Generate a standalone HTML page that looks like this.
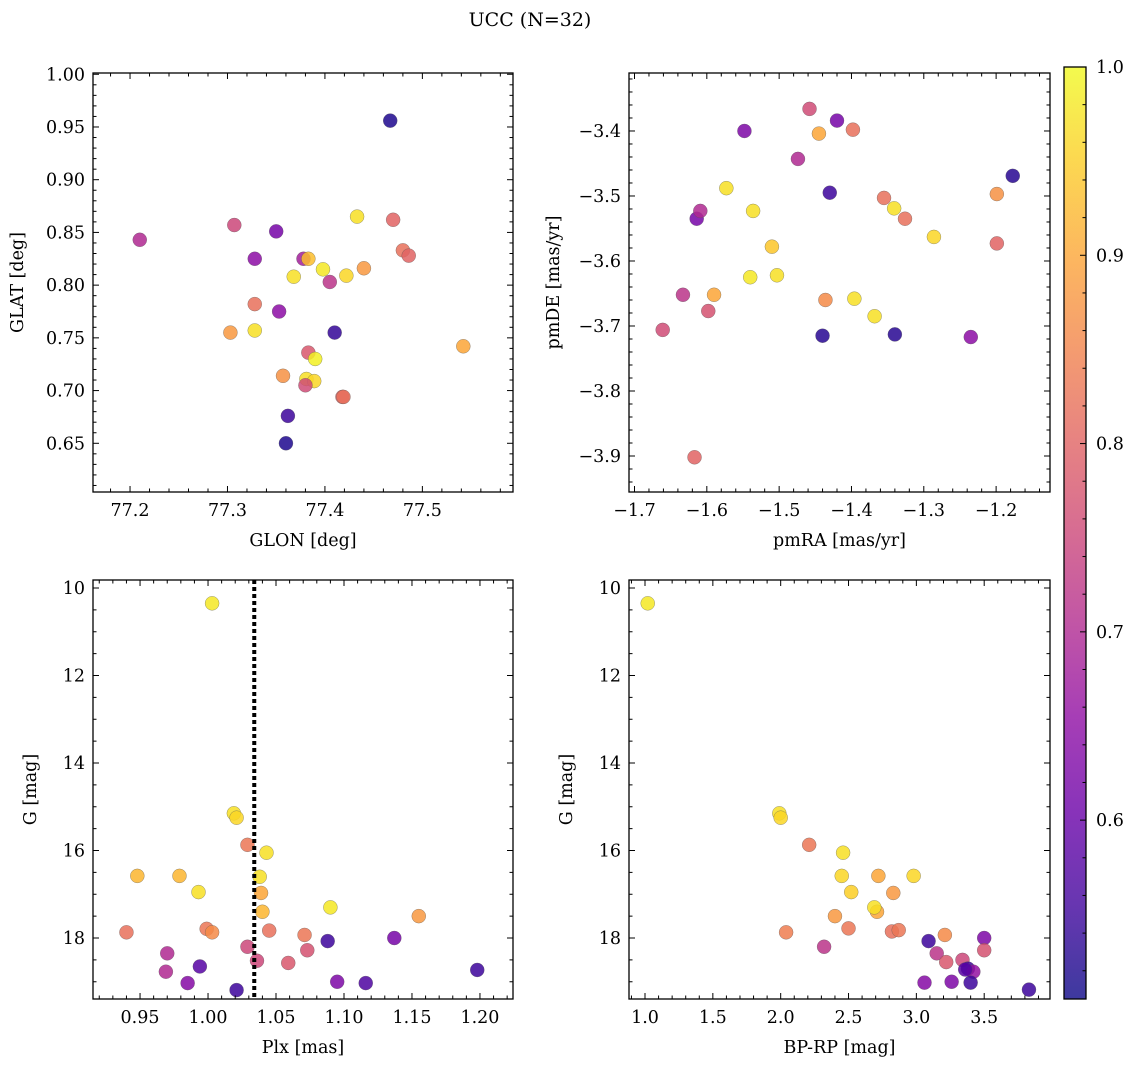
<!DOCTYPE html>
<html><head><meta charset="utf-8">
<style>
html,body{margin:0;padding:0;background:#fff;}
svg{display:block;font-family:"DejaVu Serif","Liberation Serif",serif;}
</style></head>
<body>
<svg id="fig" width="1136" height="1067" viewBox="0 0 1136 1067" xmlns="http://www.w3.org/2000/svg">
<defs>
<linearGradient id="plasma" x1="0" y1="1" x2="0" y2="0">
<stop offset="0" stop-color="#0d0887"/><stop offset="0.1" stop-color="#41049d"/><stop offset="0.2" stop-color="#6a00a8"/><stop offset="0.3" stop-color="#8f0da4"/><stop offset="0.4" stop-color="#b12a90"/><stop offset="0.5" stop-color="#cc4778"/><stop offset="0.6" stop-color="#e16462"/><stop offset="0.7" stop-color="#f2844b"/><stop offset="0.8" stop-color="#fca636"/><stop offset="0.9" stop-color="#fcce25"/><stop offset="1" stop-color="#f0f921"/>
</linearGradient>
</defs>
<text x="530" y="26" font-size="19" text-anchor="middle">UCC (N=32)</text>
</svg>
<script>
// ---- Data ----
const glon = [77.467,77.21,77.307,77.35,77.328,77.433,77.47,77.378,77.383,77.368,77.398,77.422,77.44,77.405,77.48,77.486,77.328,77.353,77.303,77.328,77.41,77.383,77.390,77.542,77.357,77.381,77.389,77.380,77.418,77.419,77.362,77.36];
const glat = [0.956,0.843,0.857,0.851,0.825,0.865,0.862,0.825,0.825,0.808,0.815,0.809,0.816,0.803,0.833,0.828,0.782,0.775,0.755,0.757,0.755,0.736,0.730,0.742,0.714,0.711,0.709,0.705,0.694,0.694,0.676,0.650];
const probA = [0.52,0.70,0.75,0.62,0.65,0.97,0.80,0.68,0.93,0.97,0.98,0.96,0.88,0.72,0.82,0.80,0.82,0.65,0.88,0.97,0.54,0.78,0.99,0.90,0.87,0.97,0.96,0.76,0.80,0.82,0.55,0.52];

const pmra = [-1.458,-1.420,-1.548,-1.445,-1.398,-1.474,-1.43,-1.177,-1.573,-1.199,-1.614,-1.609,-1.536,-1.355,-1.341,-1.326,-1.286,-1.51,-1.199,-1.54,-1.503,-1.633,-1.59,-1.598,-1.661,-1.436,-1.396,-1.368,-1.44,-1.34,-1.235,-1.617];
const pmde = [-3.366,-3.384,-3.400,-3.404,-3.398,-3.443,-3.495,-3.469,-3.488,-3.497,-3.535,-3.523,-3.523,-3.503,-3.519,-3.535,-3.563,-3.578,-3.573,-3.625,-3.622,-3.652,-3.652,-3.677,-3.706,-3.660,-3.658,-3.685,-3.715,-3.713,-3.717,-3.902];
const probB = [0.76,0.62,0.63,0.90,0.82,0.70,0.55,0.53,0.97,0.87,0.62,0.70,0.97,0.82,0.97,0.82,0.96,0.94,0.80,0.98,0.97,0.72,0.90,0.77,0.76,0.86,0.97,0.97,0.53,0.53,0.65,0.80];

const plx = [1.003,1.019,1.021,1.029,1.043,0.948,0.979,1.038,0.993,1.039,1.040,1.090,1.155,0.940,0.999,1.003,1.045,1.071,1.029,1.073,1.036,1.059,0.970,1.088,1.137,0.969,0.994,1.198,0.985,1.095,1.116,1.021];
const gmagC = [10.35,15.15,15.25,15.87,16.05,16.58,16.58,16.6,16.95,16.97,17.4,17.3,17.5,17.87,17.79,17.87,17.83,17.93,18.2,18.28,18.52,18.57,18.35,18.07,18.0,18.77,18.65,18.73,19.03,19.0,19.03,19.19];
const probC = [0.98,0.97,0.96,0.83,0.97,0.92,0.92,0.97,0.97,0.90,0.92,0.98,0.88,0.82,0.83,0.86,0.82,0.83,0.75,0.77,0.75,0.78,0.70,0.55,0.62,0.70,0.58,0.55,0.64,0.63,0.57,0.55];
const plxMedian = [1.034];

const bprp = [1.02,1.99,2.0,2.21,2.46,2.45,2.72,2.98,2.52,2.83,2.4,2.71,2.69,2.04,2.5,2.82,2.87,3.21,2.32,3.09,3.5,3.15,3.5,3.22,3.34,3.38,3.42,3.06,3.26,3.4,3.83,3.36];
const gmagD = [10.35,15.15,15.25,15.87,16.05,16.58,16.58,16.58,16.95,16.97,17.5,17.4,17.3,17.87,17.78,17.85,17.82,17.93,18.2,18.07,18.0,18.35,18.28,18.55,18.5,18.7,18.77,19.02,19.0,19.02,19.18,18.72];
const probD = [0.98,0.97,0.96,0.83,0.97,0.96,0.90,0.96,0.95,0.88,0.88,0.90,0.97,0.84,0.83,0.82,0.83,0.86,0.72,0.55,0.63,0.72,0.77,0.78,0.75,0.55,0.66,0.64,0.63,0.55,0.55,0.58];

const cbTicks = ["0.6","0.7","0.8","0.9","1.0"];
const VMIN = 0.505, VMAX = 1.0;

// ---- Helpers ----
const NS = "http://www.w3.org/2000/svg";
const svg = document.getElementById('fig');
function mk(tag, attrs, parent){
  const e = document.createElementNS(NS, tag);
  for (const k in attrs) e.setAttribute(k, attrs[k]);
  (parent||svg).appendChild(e); return e;
}
const stops = [[13,8,135],[65,4,157],[106,0,168],[143,13,164],[177,42,144],[204,71,120],[225,100,98],[242,132,75],[252,166,54],[252,206,37],[240,249,33]];
function plasma(v){
  let t = Math.max(0, Math.min(1, (v-VMIN)/(VMAX-VMIN)))*10;
  const i = Math.min(9, Math.floor(t)), f = t - i;
  const a = stops[i], b = stops[i+1];
  return `rgb(${a.map((c,j)=>Math.round(c+(b[j]-c)*f)).join(',')})`;
}
function fmt(v, d){ return v.toFixed(d).replace('-', '\u2212'); }

function panel(cfg){
  const {name, L, T, W, H, xmin, xmax, ymin, ymax, invert} = cfg;
  const g = mk('g', {});  
  const sx = v => L + (v - xmin)/(xmax - xmin)*W;
  const sy = v => invert ? T + (v - ymin)/(ymax - ymin)*H : T + H - (v - ymin)/(ymax - ymin)*H;
  const pg = mk('g', {}, g);  
  for (let i = 0; i < cfg.xs.length; i++){
    const c = mk('circle', {cx: sx(cfg.xs[i]), cy: sy(cfg.ys[i]), r: 7, fill: plasma(cfg.ps[i]), 'fill-opacity': 0.85, stroke: '#555', 'stroke-width': 0.5, 'stroke-opacity': 0.6}, pg);
    
    
  }
  const tg = mk('g', {stroke: '#000', 'stroke-width': 1}, g);
  const eps = 1e-9;
  for (let v = Math.ceil(xmin/cfg.xminor - eps)*cfg.xminor; v <= xmax + eps; v += cfg.xminor){
    const isMaj = Math.abs(v/cfg.xmajor - Math.round(v/cfg.xmajor)) < 1e-6;
    const len = isMaj ? 6 : 3.5, x = sx(v);
    mk('line', {x1: x, x2: x, y1: T+H, y2: T+H-len}, tg);
    mk('line', {x1: x, x2: x, y1: T, y2: T+len}, tg);
    if (isMaj){
      const t = mk('text', {x: x, y: T+H+24, 'font-size': 17.5, 'text-anchor': 'middle', stroke: 'none', fill: '#000'}, g);
      t.textContent = fmt(v, cfg.xdec);
      
      
    }
  }
  const y0 = Math.min(ymin, ymax), y1 = Math.max(ymin, ymax);
  for (let v = Math.ceil(y0/cfg.yminor - eps)*cfg.yminor; v <= y1 + eps; v += cfg.yminor){
    const isMaj = Math.abs(v/cfg.ymajor - Math.round(v/cfg.ymajor)) < 1e-6;
    const len = isMaj ? 6 : 3.5, y = sy(v);
    mk('line', {x1: L, x2: L+len, y1: y, y2: y}, tg);
    mk('line', {x1: L+W, x2: L+W-len, y1: y, y2: y}, tg);
    if (isMaj){
      const t = mk('text', {x: L-8, y: y+6, 'font-size': 17.5, 'text-anchor': 'end', stroke: 'none', fill: '#000'}, g);
      t.textContent = fmt(v, cfg.ydec);
      
      
    }
  }
  mk('rect', {x: L, y: T, width: W, height: H, fill: 'none', stroke: '#000', 'stroke-width': 1.3}, g);
  if (cfg.vline){
    const vx = sx(cfg.vline[0]);
    const lg = mk('g', {fill: '#000'}, g);
    
    
    for (let yy = T; yy < T + H; yy += 7){
      mk('rect', {x: vx - 2, y: yy, width: 4, height: Math.min(4, T + H - yy)}, lg);
    }
  }
  const xl = mk('text', {x: L+W/2, y: T+H+54, 'font-size': 17.5, 'text-anchor': 'middle'}, g);
  xl.textContent = cfg.xlabel;
  
  
  const yx = L - cfg.ylabOff, yy = T + H/2;
  const yl = mk('text', {x: yx, y: yy, 'font-size': 17.5, 'text-anchor': 'middle', transform: `rotate(-90 ${yx} ${yy})`}, g);
  yl.textContent = cfg.ylabel;
  
  
}

panel({name:'glon-glat-panel', L:93, T:73, W:420, H:419, xmin:77.162, xmax:77.593, ymin:0.6038, ymax:1.0012,
  xs:glon, ys:glat, ps:probA, xmajor:0.1, xminor:0.02, ymajor:0.05, yminor:0.01, xdec:1, ydec:2, xlabel:'GLON [deg]', ylabel:'GLAT [deg]', ylabOff:70});
panel({name:'pm-panel', L:629, T:73, W:421, H:419, xmin:-1.7076, xmax:-1.1255, ymin:-3.9554, ymax:-3.3108,
  xs:pmra, ys:pmde, ps:probB, xmajor:0.1, xminor:0.02, ymajor:0.1, yminor:0.02, xdec:1, ydec:1, xlabel:'pmRA [mas/yr]', ylabel:'pmDE [mas/yr]', ylabOff:70});
panel({name:'plx-g-panel', L:93, T:580, W:420, H:419, xmin:0.9154, xmax:1.2243, ymin:9.817, ymax:19.394, invert:true,
  xs:plx, ys:gmagC, ps:probC, xmajor:0.05, xminor:0.01, ymajor:2, yminor:0.5, xdec:2, ydec:0, xlabel:'Plx [mas]', ylabel:'G [mag]', ylabOff:57, vline:plxMedian});
panel({name:'cmd-panel', L:629, T:580, W:421, H:419, xmin:0.882, xmax:3.985, ymin:9.817, ymax:19.394, invert:true,
  xs:bprp, ys:gmagD, ps:probD, xmajor:0.5, xminor:0.1, ymajor:2, yminor:0.5, xdec:1, ydec:0, xlabel:'BP-RP [mag]', ylabel:'G [mag]', ylabOff:57});

// colorbar
(function(){
  const L=1064, T=67, W=22, H=932;
  const g = mk('g', {});
  
  
  mk('rect', {x:L, y:T, width:W, height:H, fill:'url(#plasma)', 'fill-opacity':0.8}, g);
  const sy = v => T + H - (v - VMIN)/(VMAX - VMIN)*H;
  for (let k = 26; k <= 50; k++){
    const v = k*0.02; if (v < VMIN) continue;
    const maj = k % 5 === 0, y = sy(v);
    mk('line', {x1:L+W, x2:L+W-(maj?6:3.5), y1:y, y2:y, stroke:'#000', 'stroke-width':1}, g);
  }
  cbTicks.forEach(s => {
    const t = mk('text', {x:L+W+10, y:sy(parseFloat(s))+6, 'font-size':17.5}, g);
    t.textContent = s;
    
    
  });
  mk('rect', {x:L, y:T, width:W, height:H, fill:'none', stroke:'#000', 'stroke-width':1.3}, g);
})();
</script>
</body></html>
